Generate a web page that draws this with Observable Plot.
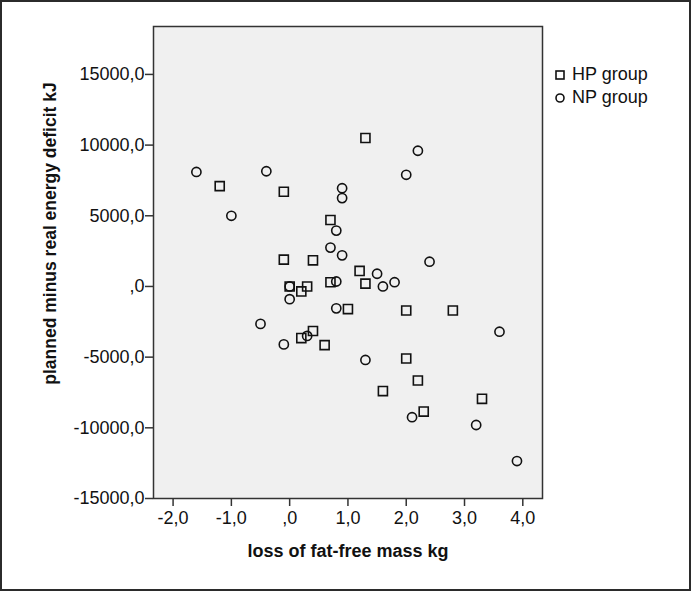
<!DOCTYPE html>
<html>
<head>
<meta charset="utf-8">
<script src="https://cdn.jsdelivr.net/npm/d3@7"></script>
<script src="https://cdn.jsdelivr.net/npm/@observablehq/plot@0.6"></script>
<style>
  html, body { margin: 0; padding: 0; background: #fff; }
  #frame { position: relative; width: 691px; height: 591px; box-sizing: border-box; border: 2px solid #2b2b2b; background: #fff; font-family: "Liberation Sans", Arial, sans-serif; }
  #chart { position: absolute; left: 0; top: 0; }
  #legend { position: absolute; left: 552px; top: 61px; font-size: 18px; color: #111; line-height: 23px; }
  #legend div { display: flex; align-items: center; }
  #legend svg { margin-right: 6px; }
</style>
</head>
<body>
<div id="frame"><div id="chart"></div><div id="legend"></div></div>
<script>
// HP group (squares)
const hpX = [1.3, -1.2, -0.1, 0.7, -0.1, 0.4, 1.2, 0.0, 0.3, 0.2, 0.7, 1.3, 1.0, 2.0, 2.8, 0.4, 0.2, 0.6, 2.0, 2.2, 1.6, 3.3, 2.3];
const hpY = [10500, 7100, 6700, 4700, 1900, 1850, 1100, 0, 0, -350, 300, 200, -1600, -1700, -1700, -3150, -3650, -4150, -5100, -6650, -7400, -7950, -8850];
// NP group (circles)
const npX = [2.2, 2.0, -1.6, -0.4, 0.9, 0.9, -1.0, 0.8, 0.7, 0.9, 2.4, 1.5, 0.0, 0.0, 0.8, 1.6, 1.8, 0.8, 3.6, -0.5, 0.3, -0.1, 1.3, 2.1, 3.2, 3.9];
const npY = [9600, 7900, 8100, 8150, 6950, 6250, 5000, 3950, 2750, 2200, 1750, 900, 0, -900, 350, 0, 300, -1550, -3200, -2650, -3500, -4100, -5200, -9250, -9800, -12350];
const groups = ["HP group", "NP group"];
const xTicks = [-2, -1, 0, 1, 2, 3, 4];
const yTicks = [15000, 10000, 5000, 0, -5000, -10000, -15000];
const xTitle = "loss of fat-free mass kg";
const yTitle = "planned minus real energy deficit kJ";

const hp = hpX.map((x, i) => ({x, y: hpY[i]}));
const np = npX.map((x, i) => ({x, y: npY[i]}));
const fmt = d => (d === 0 ? ",0" : d.toFixed(1).replace(".", ","));

const chart = Plot.plot({
  width: 687,
  height: 587,
  marginLeft: 151,
  marginTop: 24,
  marginRight: 147,
  marginBottom: 91,
  style: { fontFamily: "Liberation Sans, Arial, sans-serif", fontSize: "18px", color: "#111", background: "transparent" },
  x: { domain: [-2.336, 4.338] },
  y: { domain: [-15000, 18390] },
  marks: [
    Plot.frame({ fill: "#f0f0f0", stroke: "#333", strokeWidth: 1.5 }),
    Plot.axisX({ ticks: xTicks, tickFormat: fmt, tickSize: 8, tickPadding: 5, label: null, stroke: "#333", strokeWidth: 1.5, fontSize: 18 }),
    Plot.axisY({ ticks: yTicks, tickFormat: fmt, tickSize: 8, tickPadding: 1, label: null, stroke: "#333", strokeWidth: 1.5, fontSize: 18 }),
    Plot.dot(hp, { x: "x", y: "y", symbol: "square", r: 5.1, stroke: "#111", strokeWidth: 1.6, fill: "none" }),
    Plot.dot(np, { x: "x", y: "y", symbol: "circle", r: 4.6, stroke: "#111", strokeWidth: 1.6, fill: "none" }),
    Plot.text([xTitle], { frameAnchor: "bottom", dy: 58, text: d => d, fontWeight: "bold", fontSize: 18, fill: "#111", textAnchor: "middle" }),
    Plot.text([yTitle], { frameAnchor: "left", dx: -103, dy: -29, rotate: -90, text: d => d, fontWeight: "bold", fontSize: 17.5, fill: "#111", textAnchor: "middle" })
  ]
});
document.getElementById("chart").appendChild(chart);

const legend = document.getElementById("legend");
groups.forEach((g, i) => {
  const row = document.createElement("div");
  const glyph = i === 0
    ? '<svg width="12" height="12"><rect x="2" y="2" width="8" height="8" fill="none" stroke="#111" stroke-width="1.6"/></svg>'
    : '<svg width="12" height="12"><circle cx="6" cy="6" r="4" fill="none" stroke="#111" stroke-width="1.6"/></svg>';
  row.innerHTML = glyph + '<span>' + g + '</span>';
  legend.appendChild(row);
});
</script>
</body>
</html>
